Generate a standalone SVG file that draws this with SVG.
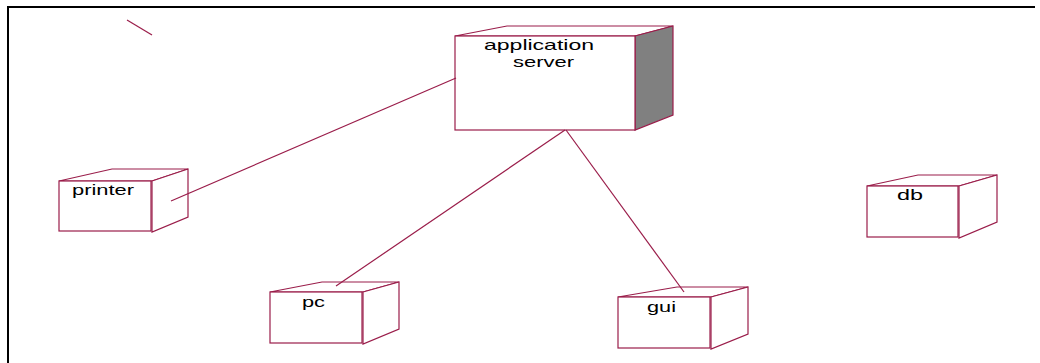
<svg xmlns="http://www.w3.org/2000/svg" width="1040" height="363" viewBox="0 0 1040 363">
<style>
.edge{fill:none;stroke:#9a1d4a;stroke-width:1.2}
.face{fill:#ffffff;stroke:#9a1d4a;stroke-width:1.2;stroke-linejoin:miter}
.shade{fill:#808080;stroke:#9a1d4a;stroke-width:1.2}
.lbl{font-family:"Liberation Sans",Arial,sans-serif;font-size:15px;fill:#000;text-anchor:middle}
</style>
<rect width="1040" height="363" fill="#ffffff"/>
<g id="frame">
<path d="M8,363 V7 H1035" fill="none" stroke="#000" stroke-width="2"/>
<line x1="127" y1="20" x2="152" y2="35" class="edge"/>
</g>
<g id="application-server">
<polygon points="455,36 507,26 673,26 635,36" class="face"/>
<polygon points="635,36 673,26 673,115 635,130" class="shade"/>
<rect x="455" y="36" width="180" height="94" class="face"/>
<text x="539" y="50" class="lbl" textLength="110" lengthAdjust="spacingAndGlyphs">application</text>
<text x="543.5" y="67" class="lbl" textLength="61" lengthAdjust="spacingAndGlyphs">server</text>
</g>
<g id="printer">
<polygon points="59,181 112,169 188,169 152,181" class="face"/>
<polygon points="152,181 188,169 188,217 152,232" class="face"/>
<rect x="59" y="181" width="92" height="50" class="face"/>
<text x="103" y="195" class="lbl" textLength="62" lengthAdjust="spacingAndGlyphs">printer</text>
</g>
<g id="pc">
<polygon points="270,292 322,282 399,282 363,292" class="face"/>
<polygon points="363,292 399,282 399,329 363,344" class="face"/>
<rect x="270" y="292" width="92" height="51" class="face"/>
<text x="313.5" y="307" class="lbl" textLength="23" lengthAdjust="spacingAndGlyphs">pc</text>
</g>
<g id="gui">
<polygon points="618,297 677,287 748,287 711,297" class="face"/>
<polygon points="711,297 748,287 748,334 711,349" class="face"/>
<rect x="618" y="297" width="92" height="51" class="face"/>
<text x="661.5" y="312" class="lbl" textLength="29" lengthAdjust="spacingAndGlyphs">gui</text>
</g>
<g id="db">
<polygon points="867,186 918,175 997,175 959,186" class="face"/>
<polygon points="959,186 997,175 997,222 959,238" class="face"/>
<rect x="867" y="186" width="91" height="51" class="face"/>
<text x="910" y="200" class="lbl" textLength="26" lengthAdjust="spacingAndGlyphs">db</text>
</g>
<g id="connectors">
<line x1="171" y1="201" x2="456" y2="78" class="edge"/>
<line x1="336" y1="286" x2="565" y2="130" class="edge"/>
<line x1="566" y1="130" x2="684" y2="292" class="edge"/>
</g>
</svg>
